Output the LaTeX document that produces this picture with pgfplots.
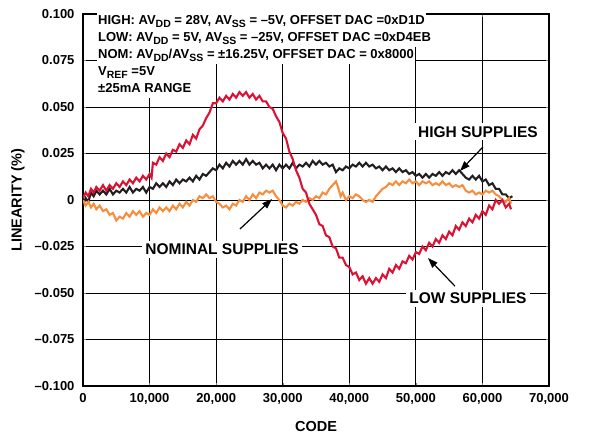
\documentclass[border=0pt]{standalone}
\usepackage{pgfplots}
\pgfplotsset{compat=1.18}
\usepackage{fontspec}
\setmainfont{Liberation Sans}
\usetikzlibrary{arrows.meta}

\definecolor{lowred}{RGB}{218,18,52}
\definecolor{nomorange}{RGB}{247,142,62}
\definecolor{highblack}{RGB}{35,31,32}
\newcommand{\sub}[1]{\raisebox{-0.4ex}{\fontsize{10.5}{10.5}\selectfont #1}}

\begin{document}
\begin{tikzpicture}
\path (0,0) rectangle (599pt,438pt);
\begin{axis}[
  at={(83pt,52pt)}, anchor=south west,
  scale only axis, width=466pt, height=372pt,
  xmin=0, xmax=70000, ymin=-0.1, ymax=0.1,
  xtick={0,10000,20000,30000,40000,50000,60000,70000},
  xticklabels={0,{10,000},{20,000},{30,000},{40,000},{50,000},{60,000},{70,000}},
  ytick={-0.1,-0.075,-0.05,-0.025,0,0.025,0.05,0.075,0.1},
  yticklabels={–0.100,–0.075,–0.050,–0.025,0,0.025,0.050,0.075,0.100},
  scaled ticks=false,
  grid=major,
  grid style={draw=black, line width=0.8pt},
  axis line style={line width=1.4pt},
  tick align=inside, major tick length=3pt,
  tick label style={font=\fontsize{13}{13}\selectfont\bfseries},
  xticklabel style={yshift=-4pt},
  yticklabel style={xshift=-5pt},
  xlabel={CODE}, ylabel={LINEARITY (\%)},
  label style={font=\fontsize{14.5}{14.5}\selectfont\bfseries},
  xlabel style={at={(axis description cs:0.5,0)}, anchor=center, yshift=-41pt},
  ylabel style={at={(axis description cs:-0.1395,0.5)}, anchor=center},
]

% HIGH SUPPLIES
\addplot[highblack, line width=2.1pt] coordinates {
(0,-0.003) (400,0.001) (800,-0.001) (1200,0.004) (1600,0.002) (2000,0.005)
(2500,0.003) (3000,0.005) (3500,0.003) (4000,0.006) (4500,0.003) (5000,0.005)
(5500,0.004) (6000,0.006) (6500,0.004) (7000,0.007) (7500,0.004) (8000,0.006)
(8500,0.005) (9000,0.007) (9500,0.004) (10000,0.007) (10500,0.006) (11000,0.009)
(11500,0.007) (12000,0.009) (12500,0.007) (13000,0.010) (13500,0.008) (14000,0.011)
(14500,0.009) (15000,0.011) (15500,0.010) (16000,0.012) (16500,0.010) (17000,0.013)
(17500,0.011) (18000,0.014) (18500,0.013) (19000,0.015) (19500,0.017) (20000,0.016)
(20500,0.019) (21000,0.017) (21500,0.020) (22000,0.018) (22500,0.021) (23000,0.019)
(23500,0.021) (24000,0.019) (24500,0.022) (25000,0.019) (25500,0.021) (26000,0.019)
(26500,0.020) (27000,0.017) (27500,0.019) (28000,0.017) (28500,0.019) (29000,0.016)
(29500,0.019) (30000,0.017) (30500,0.019) (31000,0.017) (31500,0.020) (32000,0.017)
(32500,0.019) (33000,0.018) (33500,0.020) (34000,0.018) (34500,0.021) (35000,0.019)
(35500,0.021) (36000,0.019) (36500,0.020) (37000,0.018) (37500,0.019) (38000,0.015)
(38500,0.017) (39000,0.016) (39500,0.018) (40000,0.017) (40500,0.019) (41000,0.018)
(41500,0.020) (42000,0.018) (42500,0.020) (43000,0.018) (43500,0.019) (44000,0.017)
(44500,0.018) (45000,0.016) (45500,0.018) (46000,0.016) (46500,0.017) (47000,0.015)
(47500,0.017) (48000,0.015) (48500,0.016) (49000,0.014) (49500,0.015) (50000,0.013)
(50500,0.014) (51000,0.012) (51500,0.014) (52000,0.012) (52500,0.014) (53000,0.013)
(53500,0.015) (54000,0.013) (54500,0.015) (55000,0.014) (55500,0.016) (56000,0.014)
(56500,0.016) (57000,0.014) (57500,0.012) (58000,0.011) (58500,0.013) (59000,0.011)
(59500,0.013) (60000,0.010) (60500,0.011) (61000,0.008) (61500,0.009) (62000,0.006)
(62500,0.006) (63000,0.003) (63500,0.003) (64000,0.001) (64500,0.002)
};

% NOMINAL SUPPLIES
\addplot[nomorange, line width=2.1pt] coordinates {
(0,0.000) (400,-0.003) (800,-0.001) (1200,-0.004) (1600,-0.002) (2000,-0.005)
(2500,-0.003) (3000,-0.006) (3500,-0.005) (4000,-0.008) (4500,-0.007) (5000,-0.011)
(5500,-0.009) (6000,-0.010) (6500,-0.007) (7000,-0.009) (7500,-0.006) (8000,-0.008)
(8500,-0.006) (9000,-0.009) (9500,-0.007) (10000,-0.008) (10500,-0.005) (11000,-0.007)
(11500,-0.004) (12000,-0.006) (12500,-0.004) (13000,-0.006) (13500,-0.003) (14000,-0.005)
(14500,-0.002) (15000,-0.004) (15500,-0.001) (16000,-0.003) (16500,0.000) (17000,-0.001)
(17500,0.002) (18000,0.001) (18500,0.003) (19000,0.001) (19500,0.002) (20000,-0.001)
(20500,-0.002) (21000,-0.004) (21500,-0.003) (22000,-0.005) (22500,-0.002) (23000,-0.003)
(23500,0.000) (24000,-0.001) (24500,0.002) (25000,0.000) (25500,0.003) (26000,0.001)
(26500,0.004) (27000,0.003) (27500,0.005) (28000,0.004) (28500,0.005) (29000,0.002)
(29500,0.000) (30000,-0.003) (30500,-0.004) (31000,-0.002) (31500,-0.003) (32000,-0.001)
(32500,-0.002) (33000,0.000) (33500,-0.001) (34000,0.001) (34500,0.000) (35000,0.002)
(35500,0.001) (36000,0.004) (36500,0.003) (37000,0.006) (37500,0.008) (38000,0.010)
(38300,0.007) (38700,0.002) (39000,0.004) (39500,0.000) (40000,0.002) (40500,0.001)
(41000,0.003) (41500,0.002) (42000,0.000) (42500,-0.001) (43000,0.000) (43500,-0.001)
(44000,0.002) (44500,0.004) (45000,0.006) (45500,0.007) (46000,0.009) (46500,0.008)
(47000,0.010) (47500,0.008) (48000,0.010) (48500,0.009) (49000,0.011) (49500,0.009)
(50000,0.010) (50500,0.008) (51000,0.010) (51500,0.009) (52000,0.010) (52500,0.008)
(53000,0.009) (53500,0.008) (54000,0.010) (54500,0.008) (55000,0.009) (55500,0.007)
(56000,0.008) (56500,0.007) (57000,0.008) (57500,0.005) (58000,0.004) (58500,0.005)
(59000,0.003) (59500,0.004) (60000,0.003) (60500,0.005) (61000,0.004) (61500,0.005)
(62000,0.003) (62500,0.002) (63000,0.000) (63500,-0.001) (64000,0.001) (64300,-0.002)
};

% LOW SUPPLIES
\addplot[lowred, line width=2.1pt] coordinates {
(0,0.001) (400,0.004) (800,0.002) (1200,0.006) (1600,0.004) (2000,0.007)
(2500,0.005) (3000,0.008) (3500,0.005) (4000,0.008) (4500,0.006) (5000,0.009)
(5500,0.007) (6000,0.010) (6500,0.008) (7000,0.011) (7500,0.009) (8000,0.012)
(8500,0.010) (9000,0.013) (9500,0.011) (10000,0.014) (10300,0.012) (10500,0.020)
(11000,0.019) (11500,0.023) (12000,0.021) (12500,0.025) (13000,0.023) (13500,0.027)
(14000,0.026) (14500,0.030) (15000,0.028) (15500,0.032) (16000,0.030) (16500,0.035)
(17000,0.033) (17500,0.038) (18000,0.040) (18500,0.044) (19000,0.047) (19500,0.052)
(20000,0.052) (20500,0.055) (21000,0.053) (21500,0.056) (22000,0.054) (22500,0.057)
(23000,0.055) (23500,0.058) (24000,0.056) (24500,0.058) (25000,0.055) (25500,0.057)
(26000,0.054) (26500,0.056) (27000,0.053) (27500,0.053) (28000,0.050) (28500,0.049)
(29000,0.045) (29500,0.042) (30000,0.036) (30500,0.033) (31000,0.026) (31500,0.022)
(32000,0.016) (32500,0.012) (33000,0.006) (33500,0.004) (34000,-0.002) (34500,-0.005)
(35000,-0.008) (35500,-0.013) (36000,-0.014) (36500,-0.019) (37000,-0.020) (37500,-0.025)
(38000,-0.026) (38500,-0.031) (39000,-0.031) (39500,-0.035) (40000,-0.036) (40500,-0.040)
(41000,-0.039) (41500,-0.043) (42000,-0.041) (42500,-0.045) (43000,-0.042) (43500,-0.045)
(44000,-0.042) (44500,-0.044) (45000,-0.040) (45500,-0.042) (46000,-0.037) (46500,-0.039)
(47000,-0.035) (47500,-0.037) (48000,-0.033) (48500,-0.034) (49000,-0.030) (49500,-0.032)
(50000,-0.028) (50500,-0.029) (51000,-0.025) (51500,-0.027) (52000,-0.023) (52500,-0.025)
(53000,-0.021) (53500,-0.023) (54000,-0.019) (54500,-0.021) (55000,-0.017) (55500,-0.019)
(56000,-0.014) (56500,-0.016) (57000,-0.012) (57500,-0.014) (58000,-0.010) (58500,-0.012)
(59000,-0.008) (59500,-0.010) (60000,-0.006) (60500,-0.008) (61000,-0.003) (61500,-0.005)
(62000,0.000) (62500,-0.002) (63000,0.000) (63500,-0.004) (64000,-0.002) (64300,-0.005)
};

% conditions block
\begin{scope}[every node/.style={anchor=base west, fill=white, inner xsep=1pt, inner ysep=0pt,
    text height=12pt, text depth=5pt, font=\fontsize{13}{17}\selectfont\bfseries}]
\node at (axis cs:2100,0.0942) {HIGH: AV\sub{DD} = 28V, AV\sub{SS} = –5V, OFFSET DAC =0xD1D};
\node at (axis cs:2100,0.0850) {LOW: AV\sub{DD} = 5V, AV\sub{SS} = –25V, OFFSET DAC =0xD4EB};
\node at (axis cs:2100,0.0759) {NOM: AV\sub{DD}/AV\sub{SS} = ±16.25V, OFFSET DAC = 0x8000};
\node at (axis cs:2100,0.0667) {V\sub{REF} =5V};
\node at (axis cs:2100,0.0576) {±25mA RANGE};
\end{scope}

% callouts
\begin{scope}[every node/.style={fill=white, inner sep=3pt, font=\fontsize{15.5}{15.5}\selectfont\bfseries}]
\node at (axis cs:59330,0.0366) {HIGH SUPPLIES};
\node at (axis cs:20880,-0.0264) {NOMINAL SUPPLIES};
\node at (axis cs:57830,-0.0527) {LOW SUPPLIES};
\end{scope}
\draw[line width=1.2pt, -{Triangle[length=10pt,width=7pt]}] (axis cs:60080,0.0285) -- (axis cs:56630,0.0156);
\draw[line width=1.2pt, -{Triangle[length=10pt,width=7pt]}] (axis cs:23580,-0.0156) -- (axis cs:28390,0.0005);
\draw[line width=1.2pt, -{Triangle[length=10pt,width=7pt]}] (axis cs:55870,-0.0463) -- (axis cs:51820,-0.0312);

\node[rotate=90, font=\fontsize{7}{7}\selectfont, text=gray] at (axis description cs:1.09,-0.078) {038};
\end{axis}
\end{tikzpicture}
\end{document}
